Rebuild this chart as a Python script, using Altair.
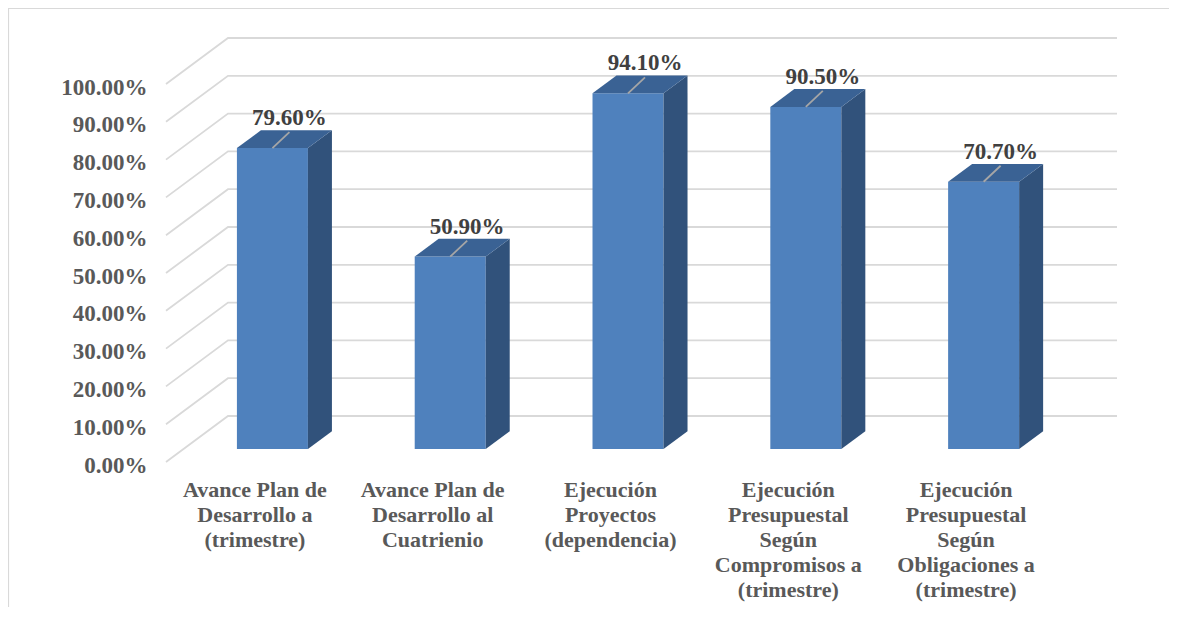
import altair as alt
import pandas as pd

# ---------------- data ----------------
categories = [
    "Avance Plan de\nDesarrollo a\n(trimestre)",
    "Avance Plan de\nDesarrollo al\nCuatrienio",
    "Ejecución\nProyectos\n(dependencia)",
    "Ejecución\nPresupuestal\nSegún\nCompromisos a\n(trimestre)",
    "Ejecución\nPresupuestal\nSegún\nObligaciones a\n(trimestre)",
]
values = [0.796, 0.509, 0.941, 0.905, 0.707]
y_ticks = [0.0, 0.1, 0.2, 0.3, 0.4, 0.5, 0.6, 0.7, 0.8, 0.9, 1.0]

# ---------------- 3-D projection constants (style) ----------------
W, H = 951, 424
DX = 0.3487      # x shift (category units) for full depth
DY = 0.1217      # y shift (value units) for full depth
Z1, Z2 = 0.2826, 0.6697   # bar front / back depth
HALF = 0.1997    # half bar width (category units)
FONT = "Liberation Serif"

n = len(categories)
xmin, xmax = -0.5, n - 0.5 + DX

# grid polylines
grid_rows = []
for t in y_ticks:
    grid_rows.append({"t": t, "k": 0, "px": xmin, "py": t})
    grid_rows.append({"t": t, "k": 1, "px": xmin + DX, "py": t + DY})
    grid_rows.append({"t": t, "k": 2, "px": xmax, "py": t + DY})
grid_df = pd.DataFrame(grid_rows)

front_df = pd.DataFrame([
    {"c": i, "px": i - HALF + Z1 * DX, "px2": i + HALF + Z1 * DX,
     "py": Z1 * DY, "py2": v + Z1 * DY}
    for i, v in enumerate(values)
])

side_rows, top_rows = [], []
for i, v in enumerate(values):
    for z in (Z1, Z2):
        side_rows.append({"c": i, "px": i + HALF + z * DX, "py": z * DY, "py2": v + z * DY})
        top_rows.append({"c": i, "py": v + z * DY, "px": i - HALF + z * DX, "px2": i + HALF + z * DX})
side_df = pd.DataFrame(side_rows)
top_df = pd.DataFrame(top_rows)

lab_df = pd.DataFrame([
    {"c": i, "v": v, "px": i + Z1 * DX, "py": v + Z1 * DY,
     "lx2": i + Z1 * DX + 0.0956, "ly2": v + Z1 * DY + 0.0423}
    for i, v in enumerate(values)
])

cat_df = pd.DataFrame([{"c": i, "name": name, "px": i, "py": 0.0} for i, name in enumerate(categories)])

xs = alt.Scale(domain=[xmin, xmax], nice=False, zero=False)
ys = alt.Scale(domain=[0, 1 + DY], nice=False, zero=False)
y_axis = alt.Axis(
    values=y_ticks, format=".2%", grid=False, domain=False, ticks=False, tickSize=0,
    labelPadding=19, labelFont=FONT, labelFontSize=23, labelFontWeight="bold",
    labelColor="#595959", labelOffset=3, title=None)


def X(field, **kw):
    return alt.X(field, scale=xs, axis=None, **kw)


def Y(field, **kw):
    return alt.Y(field, scale=ys, axis=y_axis, **kw)


frame = alt.Chart(pd.DataFrame({"a": [0]})).mark_rect(
    fillOpacity=0, stroke="#D9D9D9", strokeWidth=1.2
).encode(x=alt.value(-157.5), x2=alt.value(1010), y=alt.value(-29.5), y2=alt.value(600))

grid = alt.Chart(grid_df).mark_line(color="#D9D9D9", strokeWidth=1.8).encode(
    x=X("px:Q"), y=Y("py:Q"), detail="t:N", order="k:O",
)

front = alt.Chart(front_df).mark_rect(color="#4F81BD").encode(
    x=X("px:Q"), x2="px2:Q", y=Y("py:Q"), y2="py2:Q",
)

side = alt.Chart(side_df).mark_area(color="#31527B", orient="vertical").encode(
    x=X("px:Q"), y=Y("py:Q", stack=None), y2="py2:Q", detail="c:N",
)

top = alt.Chart(top_df).mark_area(color="#3A6294", orient="horizontal").encode(
    y=Y("py:Q"), x=X("px:Q", stack=None), x2="px2:Q", detail="c:N",
)

leader = alt.Chart(lab_df).mark_rule(color="#A6A6A6", strokeWidth=1.8).encode(
    x=X("px:Q"), x2="lx2:Q", y=Y("py:Q"), y2="ly2:Q",
)

vlabels = alt.Chart(lab_df).mark_text(
    font=FONT, fontSize=23, fontWeight="bold", color="#404040",
    dx=17, dy=-30, baseline="middle", align="center"
).encode(
    x=X("px:Q"), y=Y("py:Q"), text=alt.Text("v:Q", format=".2%"),
)

clabels = alt.Chart(cat_df).mark_text(
    font=FONT, fontSize=22, fontWeight="bold", color="#595959",
    lineBreak="\n", lineHeight=25, baseline="top", align="center", dy=18
).encode(
    x=X("px:Q"), y=Y("py:Q"), text="name:N",
)

chart = alt.layer(frame, grid, front, side, top, leader, vlabels, clabels).properties(
    width=W, height=H,
    padding={"left": 158, "top": 30, "right": 52, "bottom": 145},
    autosize=alt.AutoSizeParams(type="none"),
).configure_view(stroke=None)

chart.save("out.html", embed_options={"renderer": "svg", "actions": False})
